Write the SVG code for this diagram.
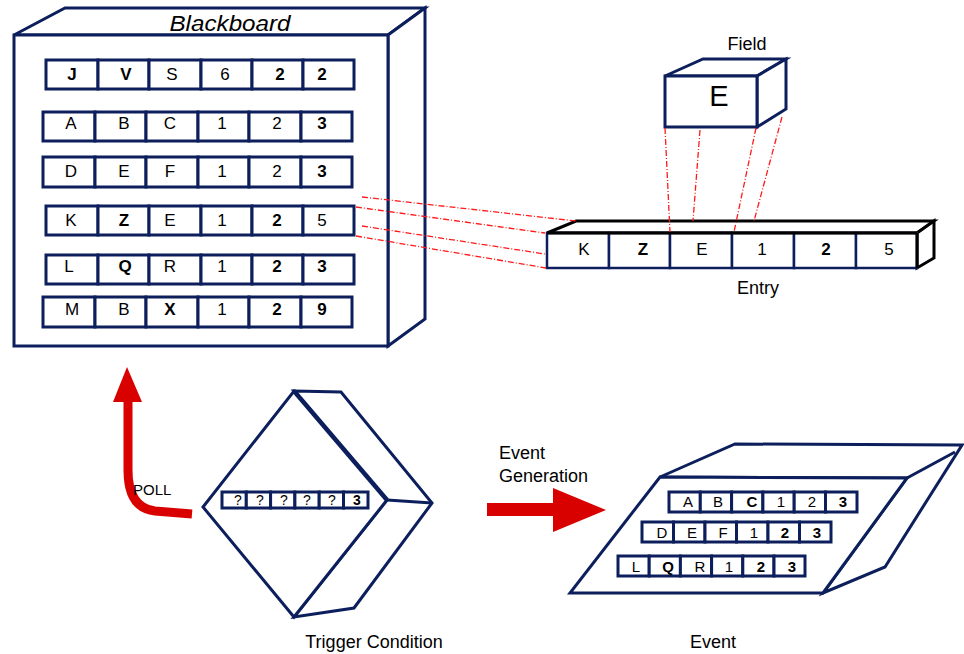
<svg xmlns="http://www.w3.org/2000/svg" width="964" height="654" viewBox="0 0 964 654">
<style>
.n{fill:#fff;stroke:#0c1f5c;stroke-width:3;stroke-linejoin:miter}
.c{fill:#fff;stroke:#0c1f5c;stroke-width:3}
.cs{fill:#fff;stroke:#0c1f5c;stroke-width:2.5}
.t{font-family:"Liberation Sans",Arial,sans-serif;font-size:17px;fill:#000;text-anchor:middle}
.ts{font-family:"Liberation Sans",Arial,sans-serif;font-size:15px;fill:#000;text-anchor:middle}
.tq{font-family:"Liberation Sans",Arial,sans-serif;font-size:14px;fill:#000;text-anchor:middle}
.b{font-weight:bold}
.lbl{font-family:"Liberation Sans",Arial,sans-serif;font-size:18px;fill:#000}
.dd{stroke:#ff1a1a;stroke-width:1.3;fill:none;stroke-dasharray:6 2 1 2}
</style>
<rect width="964" height="654" fill="#fff"/>

<g id="blackboard">
  <polygon class="n" points="14,35 65,8 425,8 388,35"/>
  <polygon class="n" points="388,35 425,8 425,319 388,346"/>
  <rect class="n" x="14" y="35" width="374" height="311"/>
  <text x="230" y="31" font-family="'Liberation Sans',Arial,sans-serif" font-size="22" font-style="italic" text-anchor="middle" fill="#000" transform="translate(230,22) scale(1.1,1) translate(-230,-22)">Blackboard</text>
  <g id="bb-row1">
    <rect class="c" x="46" y="60" width="52" height="29"/><rect class="c" x="98" y="60" width="51" height="29"/><rect class="c" x="149" y="60" width="52" height="29"/><rect class="c" x="201" y="60" width="51" height="29"/><rect class="c" x="252" y="60" width="51" height="29"/><rect class="c" x="303" y="60" width="51" height="29"/>
    <text class="t b" x="72" y="80">J</text><text class="t b" x="126" y="80">V</text><text class="t" x="172" y="80">S</text><text class="t" x="225" y="80">6</text><text class="t b" x="280" y="80">2</text><text class="t b" x="322" y="80">2</text>
  </g>
  <g id="bb-row2">
    <rect class="c" x="43" y="112" width="52" height="29"/><rect class="c" x="95" y="112" width="51" height="29"/><rect class="c" x="146" y="112" width="52" height="29"/><rect class="c" x="198" y="112" width="51" height="29"/><rect class="c" x="249" y="112" width="52" height="29"/><rect class="c" x="301" y="112" width="51" height="29"/>
    <text class="t" x="71" y="129">A</text><text class="t" x="124" y="129">B</text><text class="t" x="170" y="129">C</text><text class="t" x="222" y="129">1</text><text class="t" x="277" y="129">2</text><text class="t b" x="322" y="129">3</text>
  </g>
  <g id="bb-row3">
    <rect class="c" x="43" y="157" width="52" height="30"/><rect class="c" x="95" y="157" width="51" height="30"/><rect class="c" x="146" y="157" width="52" height="30"/><rect class="c" x="198" y="157" width="51" height="30"/><rect class="c" x="249" y="157" width="52" height="30"/><rect class="c" x="301" y="157" width="51" height="30"/>
    <text class="t" x="71" y="177">D</text><text class="t" x="124" y="177">E</text><text class="t" x="170" y="177">F</text><text class="t" x="222" y="177">1</text><text class="t" x="277" y="177">2</text><text class="t b" x="322" y="177">3</text>
  </g>
  <g id="bb-row4">
    <rect class="c" x="46" y="206" width="52" height="29"/><rect class="c" x="98" y="206" width="51" height="29"/><rect class="c" x="149" y="206" width="52" height="29"/><rect class="c" x="201" y="206" width="51" height="29"/><rect class="c" x="252" y="206" width="51" height="29"/><rect class="c" x="303" y="206" width="51" height="29"/>
    <text class="t" x="71" y="226">K</text><text class="t b" x="124" y="226">Z</text><text class="t" x="170" y="226">E</text><text class="t" x="222" y="226">1</text><text class="t b" x="277" y="226">2</text><text class="t" x="322" y="226">5</text>
  </g>
  <g id="bb-row5">
    <rect class="c" x="46" y="255" width="52" height="29"/><rect class="c" x="98" y="255" width="51" height="29"/><rect class="c" x="149" y="255" width="52" height="29"/><rect class="c" x="201" y="255" width="51" height="29"/><rect class="c" x="252" y="255" width="51" height="29"/><rect class="c" x="303" y="255" width="51" height="29"/>
    <text class="t" x="69" y="272">L</text><text class="t b" x="125" y="272">Q</text><text class="t" x="170" y="272">R</text><text class="t" x="222" y="272">1</text><text class="t b" x="277" y="272">2</text><text class="t b" x="322" y="272">3</text>
  </g>
  <g id="bb-row6">
    <rect class="c" x="43" y="297" width="52" height="30"/><rect class="c" x="95" y="297" width="51" height="30"/><rect class="c" x="146" y="297" width="52" height="30"/><rect class="c" x="198" y="297" width="51" height="30"/><rect class="c" x="249" y="297" width="52" height="30"/><rect class="c" x="301" y="297" width="51" height="30"/>
    <text class="t" x="72" y="315">M</text><text class="t" x="124" y="315">B</text><text class="t b" x="170" y="315">X</text><text class="t" x="222" y="315">1</text><text class="t b" x="277" y="315">2</text><text class="t b" x="322" y="315">9</text>
  </g>
</g>

<g id="field">
  <text class="lbl" x="747" y="50" text-anchor="middle">Field</text>
  <polygon class="n" points="665,76 703,59 786,59 757,76"/>
  <polygon class="n" points="757,76 786,59 786,109 757,127"/>
  <rect class="n" x="665" y="76" width="92" height="51"/>
  <text x="719" y="106" font-family="'Liberation Sans',Arial,sans-serif" font-size="29" text-anchor="middle" fill="#000">E</text>
</g>

<g id="entry">
  <polygon points="547,233 576,221 934,221 917,233" fill="#fff" stroke="#000" stroke-width="3"/>
  <polygon points="917,233 934,221 934,258 917,268" fill="#fff" stroke="#000" stroke-width="3"/>
  <rect class="cs" x="547" y="233" width="62" height="35"/><rect class="cs" x="609" y="233" width="61" height="35"/><rect class="cs" x="670" y="233" width="62" height="35"/><rect class="cs" x="732" y="233" width="62" height="35"/><rect class="cs" x="794" y="233" width="62" height="35"/><rect class="cs" x="856" y="233" width="61" height="35"/>
  <line x1="547" y1="233" x2="917" y2="233" stroke="#000" stroke-width="3"/>
  <line x1="917" y1="233" x2="917" y2="268" stroke="#000" stroke-width="3"/>
  <text class="t" x="584" y="255">K</text><text class="t b" x="643" y="255">Z</text><text class="t" x="702" y="255">E</text><text class="t" x="762" y="255">1</text><text class="t b" x="826" y="255">2</text><text class="t" x="889" y="255">5</text>
  <text class="lbl" x="758" y="294" text-anchor="middle">Entry</text>
</g>

<g id="trigger">
  <polygon class="n" points="294,391 341,392 432,503 354,608 294,617 387,500"/>
  <line x1="387" y1="500" x2="432" y2="503" stroke="#0c1f5c" stroke-width="3"/>
  <polygon class="n" points="294,391 387,500 294,617 203,507"/>
  <line x1="294" y1="391" x2="387" y2="500" stroke="#0c1f5c" stroke-width="4.5"/>
  <rect class="c" x="222" y="492" width="24.3" height="16"/><rect class="c" x="246.3" y="492" width="24.3" height="16"/><rect class="c" x="270.6" y="492" width="24.3" height="16"/><rect class="c" x="294.9" y="492" width="24.3" height="16"/><rect class="c" x="319.2" y="492" width="24.3" height="16"/><rect class="c" x="343.5" y="492" width="24.5" height="16"/>
  <text class="tq" x="238" y="505">?</text><text class="tq" x="260" y="505">?</text><text class="tq" x="284" y="505">?</text><text class="tq" x="307" y="505">?</text><text class="tq" x="332" y="505">?</text><text class="tq b" x="357" y="505">3</text>
  <text class="lbl" x="374" y="648" text-anchor="middle">Trigger Condition</text>
</g>

<g id="event-generation-label">
  <text class="lbl" x="499" y="459">Event</text>
  <text class="lbl" x="499" y="482">Generation</text>
</g>

<g id="event">
  <polygon class="n" points="660,477 735,444 962,445 885,567 823,593 907,478"/>
  <line x1="907" y1="478" x2="955" y2="452" stroke="#0c1f5c" stroke-width="3"/>
  <polygon class="n" points="660,477 907,478 823,593 570,593"/>
  <rect class="c" x="669" y="492" width="31.3" height="20"/><rect class="c" x="700.3" y="492" width="31.3" height="20"/><rect class="c" x="731.6" y="492" width="31.3" height="20"/><rect class="c" x="762.9" y="492" width="31.3" height="20"/><rect class="c" x="794.2" y="492" width="31.3" height="20"/><rect class="c" x="825.5" y="492" width="31.5" height="20"/>
  <text class="ts" x="688" y="507">A</text><text class="ts" x="718" y="507">B</text><text class="ts b" x="752" y="507">C</text><text class="ts" x="781" y="507">1</text><text class="ts" x="812" y="507">2</text><text class="ts b" x="843" y="507">3</text>
  <rect class="c" x="642" y="522" width="31.5" height="20"/><rect class="c" x="673.5" y="522" width="31.5" height="20"/><rect class="c" x="705" y="522" width="31.5" height="20"/><rect class="c" x="736.5" y="522" width="31.5" height="20"/><rect class="c" x="768" y="522" width="31.5" height="20"/><rect class="c" x="799.5" y="522" width="31.5" height="20"/>
  <text class="ts" x="662" y="538">D</text><text class="ts" x="692" y="538">E</text><text class="ts" x="723" y="538">F</text><text class="ts" x="754" y="538">1</text><text class="ts b" x="785" y="538">2</text><text class="ts b" x="817" y="538">3</text>
  <rect class="c" x="618" y="556" width="31.2" height="20"/><rect class="c" x="649.2" y="556" width="31.2" height="20"/><rect class="c" x="680.4" y="556" width="31.2" height="20"/><rect class="c" x="711.6" y="556" width="31.2" height="20"/><rect class="c" x="742.8" y="556" width="31.2" height="20"/><rect class="c" x="774" y="556" width="31" height="20"/>
  <text class="ts" x="636" y="572">L</text><text class="ts b" x="668" y="572">Q</text><text class="ts" x="700" y="572">R</text><text class="ts" x="729" y="572">1</text><text class="ts b" x="761" y="572">2</text><text class="ts b" x="792" y="572">3</text>
  <text class="lbl" x="713" y="648" text-anchor="middle">Event</text>
</g>

<g id="connectors">
  <line class="dd" x1="362" y1="197" x2="576" y2="221"/>
  <line class="dd" x1="356" y1="207" x2="545" y2="233"/>
  <line class="dd" x1="362" y1="226" x2="545" y2="254"/>
  <line class="dd" x1="356" y1="236" x2="546" y2="268"/>
  <line class="dd" x1="665" y1="128" x2="670" y2="232"/>
  <line class="dd" x1="700" y1="130" x2="693" y2="221"/>
  <line class="dd" x1="756" y1="128" x2="734" y2="232"/>
  <line class="dd" x1="782" y1="117" x2="754" y2="221"/>
  <path d="M192,514 L155,511 Q128,508 128,470 L128,400" fill="none" stroke="#d90000" stroke-width="9"/>
  <polygon points="113,402 127,367 142,402" fill="#d90000"/>
  <polygon points="487,503 553,503 553,488 606,510 553,532 553,516 487,516" fill="#d90000"/>
</g>

<text id="poll" x="133" y="495" font-family="'Liberation Sans',Arial,sans-serif" font-size="15" fill="#000">POLL</text>
</svg>
